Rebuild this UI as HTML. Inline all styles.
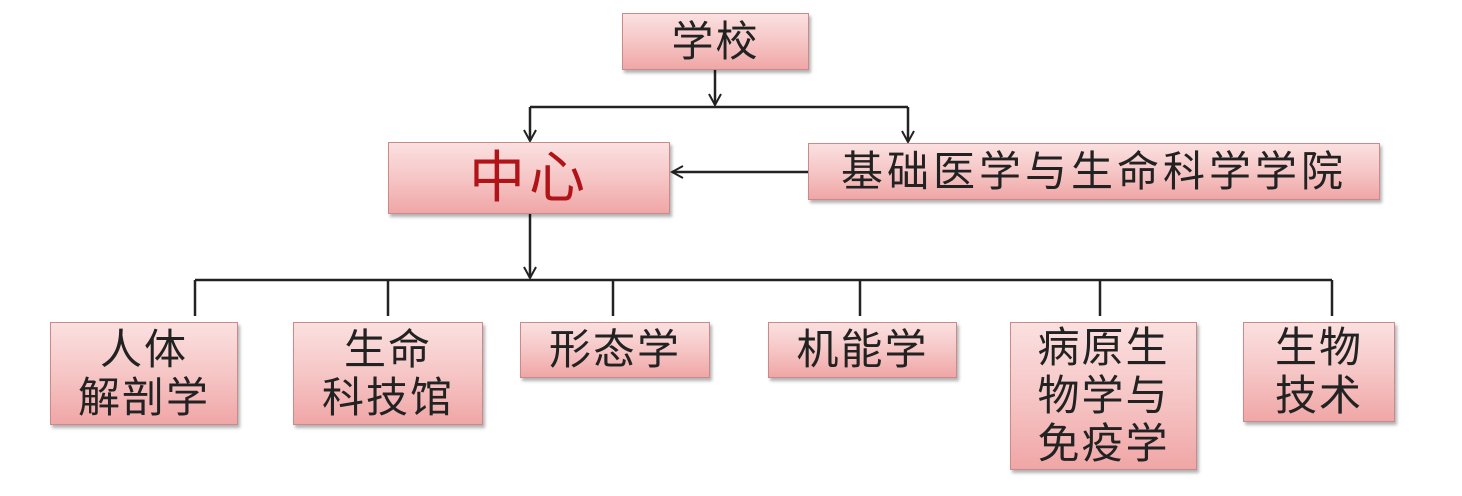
<!DOCTYPE html>
<html><head><meta charset="utf-8"><style>
body{margin:0;width:1462px;height:496px;background:#fff;position:relative;overflow:hidden;font-family:"Liberation Sans","Noto Sans CJK SC",sans-serif}
.b{position:absolute;box-sizing:border-box;border:1.5px solid #c98a8a;background:linear-gradient(#fbe0e0,#f6c6c6 50%,#f0a6a6);box-shadow:2px 3px 3px rgba(0,0,0,.3);display:flex;align-items:center;justify-content:center;text-align:center;font-size:42px;line-height:48px;color:#222;letter-spacing:2px}
svg{position:absolute;left:0;top:0}
</style></head><body>
<svg width="1462" height="496">
<defs><marker id="a" markerWidth="14" markerHeight="14" refX="12" refY="7" orient="auto" markerUnits="userSpaceOnUse"><path d="M1,1 L12,7 L1,13" fill="none" stroke="#222" stroke-width="2"/></marker></defs>
<g stroke="#222" stroke-width="2.5" fill="none">
<line x1="715" y1="70" x2="715" y2="105" marker-end="url(#a)"/>
<line x1="530" y1="107" x2="908" y2="107"/>
<line x1="530" y1="107" x2="530" y2="141" marker-end="url(#a)"/>
<line x1="908" y1="107" x2="908" y2="142" marker-end="url(#a)"/>
<line x1="808" y1="172" x2="672" y2="172" marker-end="url(#a)"/>
<line x1="530" y1="214" x2="530" y2="278" marker-end="url(#a)"/>
<line x1="195" y1="280" x2="1332" y2="280"/>
<line x1="195" y1="280" x2="195" y2="316"/>
<line x1="388" y1="280" x2="388" y2="316"/>
<line x1="613" y1="280" x2="613" y2="316"/>
<line x1="860" y1="280" x2="860" y2="316"/>
<line x1="1100" y1="280" x2="1100" y2="316"/>
<line x1="1332" y1="280" x2="1332" y2="316"/>
</g></svg>
<div class="b" style="left:622px;top:13px;width:187px;height:57px">学校</div>
<div class="b" style="left:388px;top:142px;width:282px;height:72px;font-size:56px;letter-spacing:4px;color:#b01418">中心</div>
<div class="b" style="left:808px;top:143px;width:572px;height:57px;letter-spacing:4px">基础医学与生命科学学院</div>
<div class="b" style="left:50px;top:322px;width:188px;height:103px">人体<br>解剖学</div>
<div class="b" style="left:293px;top:322px;width:190px;height:103px">生命<br>科技馆</div>
<div class="b" style="left:520px;top:322px;width:190px;height:56px">形态学</div>
<div class="b" style="left:768px;top:322px;width:189px;height:56px">机能学</div>
<div class="b" style="left:1010px;top:322px;width:187px;height:148px">病原生<br>物学与<br>免疫学</div>
<div class="b" style="left:1243px;top:322px;width:152px;height:100px">生物<br>技术</div>
</body></html>
